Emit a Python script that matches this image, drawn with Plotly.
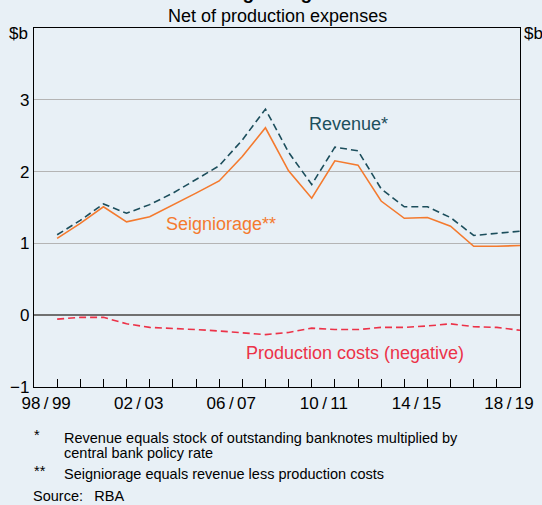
import plotly.graph_objects as go

years = ["98/99", "99/00", "00/01", "01/02", "02/03", "03/04", "04/05", "05/06",
         "06/07", "07/08", "08/09", "09/10", "10/11", "11/12", "12/13", "13/14",
         "14/15", "15/16", "16/17", "17/18", "18/19"]
revenue = [1.12, 1.32, 1.55, 1.42, 1.54, 1.70, 1.89, 2.08, 2.44, 2.87, 2.27,
           1.82, 2.34, 2.29, 1.76, 1.51, 1.51, 1.36, 1.11, 1.14, 1.17]
seigniorage = [1.07, 1.28, 1.51, 1.30, 1.37, 1.53, 1.70, 1.87, 2.21, 2.61, 2.01,
               1.63, 2.15, 2.09, 1.59, 1.35, 1.36, 1.24, 0.96, 0.96, 0.97]
production_costs = [-0.055, -0.03, -0.03, -0.12, -0.17, -0.18, -0.20, -0.22, -0.24,
                    -0.27, -0.24, -0.18, -0.20, -0.20, -0.17, -0.17, -0.15, -0.12,
                    -0.16, -0.17, -0.21]
y_ticks = [-1, 0, 1, 2, 3]
x_label_every = 4

FONT = "Liberation Sans, Arial, sans-serif"
BG = "#E8F0F6"
C_REV = "#1C4E5C"
C_SEI = "#F47A2E"
C_PRO = "#EC3248"

xs = list(range(len(years)))
tick_text = [(y.replace("/", "\u2009/\u2009") if i % x_label_every == 0 else "")
             for i, y in enumerate(years)]

fig = go.Figure()
fig.add_trace(go.Scatter(x=xs, y=revenue, mode="lines",
                         line=dict(color=C_REV, width=1.6, dash="7px,4px"),
                         hoverinfo="skip", showlegend=False))
fig.add_trace(go.Scatter(x=xs, y=seigniorage, mode="lines",
                         line=dict(color=C_SEI, width=1.6),
                         hoverinfo="skip", showlegend=False))
fig.add_trace(go.Scatter(x=xs, y=production_costs, mode="lines",
                         line=dict(color=C_PRO, width=1.6, dash="7px,4px"),
                         hoverinfo="skip", showlegend=False))

L, R, T, B = 33.5, 22, 27.5, 117.5
W, H = 542, 505
ph = H - T - B
pw = W - L - R

def py(p):  # pixel y -> paper y
    return (H - B - p) / ph

def px(p):  # pixel x -> paper x
    return (p - L) / pw

fig.update_layout(
    width=W, height=H,
    margin=dict(l=L, r=R, t=T, b=B, pad=0, autoexpand=False),
    paper_bgcolor=BG, plot_bgcolor=BG,
    font=dict(family=FONT, size=17, color="#000000"),
    showlegend=False,
    xaxis=dict(range=[-1, len(years) - 1], tickmode="array", tickvals=xs,
               ticktext=tick_text, ticks="inside", ticklen=8, tickwidth=1,
               tickcolor="#000000", showgrid=False, zeroline=False,
               showline=True, linecolor="#000000", linewidth=1.2, mirror=True,
               ticklabelshift=-11, tickfont=dict(size=17), automargin=False),
    yaxis=dict(range=[-1, 4], tickmode="array", tickvals=y_ticks,
               ticks="", showgrid=True, gridcolor="#B4B4B4", gridwidth=1,
               zeroline=True, zerolinecolor="#707070", zerolinewidth=1.5,
               showline=True, linecolor="#000000", linewidth=1.2, mirror=True,
               tickfont=dict(size=17), automargin=False),
    yaxis2=dict(range=[-1, 4], tickmode="array", tickvals=y_ticks,
                overlaying="y", side="right", anchor="x", ticks="",
                showgrid=False, zeroline=False, showline=False,
                tickfont=dict(size=17), automargin=False),
)

ann = []
# title (cut off at top) and subtitle
ann.append(dict(text="<b>Seigniorage</b>", xref="paper", yref="paper",
                x=px(268), y=py(-8.5), xanchor="center", yanchor="middle",
                showarrow=False, font=dict(size=19)))
ann.append(dict(text="Net of production expenses", xref="paper", yref="paper",
                x=px(277), y=py(15.5), xanchor="center", yanchor="middle",
                showarrow=False, font=dict(size=18)))
# units
ann.append(dict(text="$b", xref="paper", yref="paper", x=px(29.5), y=py(33.5),
                xanchor="right", yanchor="middle", showarrow=False,
                font=dict(size=17)))
ann.append(dict(text="$b", xref="paper", yref="paper", x=px(522), y=py(33.5),
                xanchor="left", yanchor="middle", showarrow=False,
                font=dict(size=17)))
# series labels
ann.append(dict(text="Revenue*", x=12.6, y=2.66, xref="x", yref="y",
                showarrow=False, font=dict(size=18, color=C_REV)))
ann.append(dict(text="Seigniorage**", x=7.09, y=1.27, xref="x", yref="y",
                showarrow=False, font=dict(size=18, color=C_SEI)))
ann.append(dict(text="Production costs (negative)", x=12.87, y=-0.525,
                xref="x", yref="y", showarrow=False,
                font=dict(size=18, color=C_PRO)))
# footnotes
FN = 14.5
notes = [
    ("*", 439, "Revenue equals stock of outstanding banknotes multiplied by"),
    (None, 454, "central bank policy rate"),
    ("**", 475, "Seigniorage equals revenue less production costs"),
]
for mark, yy, txt in notes:
    if mark:
        ann.append(dict(text=mark, xref="paper", yref="paper", x=px(31),
                        y=py(yy - 3), xanchor="left", yanchor="middle",
                        showarrow=False, font=dict(size=FN)))
    ann.append(dict(text=txt, xref="paper", yref="paper", x=px(62),
                    y=py(yy), xanchor="left", yanchor="middle",
                    showarrow=False, font=dict(size=FN)))
ann.append(dict(text="Source:\u2002 RBA", xref="paper", yref="paper", x=px(30),
                y=py(496.5), xanchor="left", yanchor="middle", showarrow=False,
                font=dict(size=FN)))

fig.update_layout(annotations=ann)
fig.write_html("out.html",
               config={"displayModeBar": False},
               post_script="document.body.style.margin='0';"
                           "document.body.style.padding='0';"
                           "document.body.style.overflow='hidden';")
